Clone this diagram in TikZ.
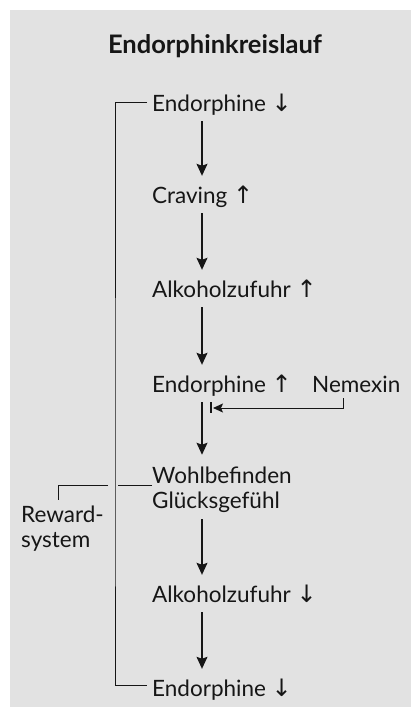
\documentclass[tikz,border=0pt]{standalone}
\usepackage{fontspec}
\setmainfont{Lato}
\newfontfamily\symfont{DejaVu Sans}
\usetikzlibrary{arrows.meta}
\definecolor{bg}{RGB}{226,226,226}
\definecolor{ink}{RGB}{22,22,22}
\newcommand\arrdn{{\symfont\fontsize{24}{24}\selectfont ↓}}
\newcommand\arrup{{\symfont\fontsize{24}{24}\selectfont ↑}}
\begin{document}
\begin{tikzpicture}[x=1pt,y=-1pt,
  txt/.style={font=\fontsize{22.5}{24.5}\selectfont, text=ink, inner sep=0pt, anchor=base west},
  lbl/.style={txt, text height=15pt, text depth=0pt},
  flow/.style={draw=ink, line width=1.1pt, -{Stealth[length=12pt,width=11pt,inset=2pt]}, shorten <=10pt, shorten >=12pt},
  brk/.style={draw=ink, line width=0.9pt},
  inhib/.style={draw=ink, line width=0.9pt, -{Stealth[length=10pt,width=9pt,inset=2pt]}},
]
\useasboundingbox (0,0) rectangle (411,707);
\fill[bg] (10,10) rectangle (411,707);
\node[font=\bfseries\fontsize{25.5}{28}\selectfont, text=ink, inner sep=0pt, anchor=base] (title) at (215,53) {Endorphinkreislauf};
\node[lbl] (e1) at (152,111) {Endorphine \arrdn};
\node[lbl] (c) at (152,203) {Craving \arrup};
\node[lbl] (a1) at (152,297) {Alkoholzufuhr \arrup};
\node[lbl] (e2) at (152,392) {Endorphine \arrup};
\node[lbl] (nem) at (312,392) {Nemexin};
\node[txt, align=left] (w) at (152,508) {Wohlbefinden\\Glücksgefühl};
\node[txt, align=left] (rew) at (21,547) {Reward-\\system};
\node[lbl] (a2) at (152,602) {Alkoholzufuhr \arrdn};
\node[lbl] (e3) at (152,696) {Endorphine \arrdn};
% helper coordinates
\coordinate (ax) at (202,0);
\coordinate (lb) at (115,0);
\coordinate (nx) at (343,0);
\coordinate (bar) at (211,408);
\coordinate (rx) at (58,0);
% main flow
\draw[flow] (e1.south -| ax) -- (c.north -| ax);
\draw[flow] (c.south -| ax) -- (a1.north -| ax);
\draw[flow] (a1.south -| ax) -- (e2.north -| ax);
\draw[flow] (e2.south -| ax) -- (w.north -| ax);
\draw[flow, shorten <=7pt] (w.south -| ax) -- (a2.north -| ax);
\draw[flow] (a2.south -| ax) -- (e3.north -| ax);
% bracket
\draw[brk, shorten <=5pt, shorten >=5pt] ([yshift=1pt]e1.west) -| (lb |- w.west) |- ([yshift=3pt]e3.west);
% nemexin inhibition
\draw[inhib, shorten <=6pt, shorten >=2pt] (nem.south -| nx) |- (bar);
\draw[draw=ink, line width=1.5pt] ([yshift=6pt]bar) -- ([yshift=-5pt]bar);
% reward system
\coordinate (rj) at ([yshift=4pt]w.west);
\draw[brk] (rj) -- ([xshift=3pt]lb |- rj);
\draw[brk] ([xshift=-7pt]lb |- rj) -| ([yshift=-14pt]rx |- rj);
\end{tikzpicture}
\end{document}
